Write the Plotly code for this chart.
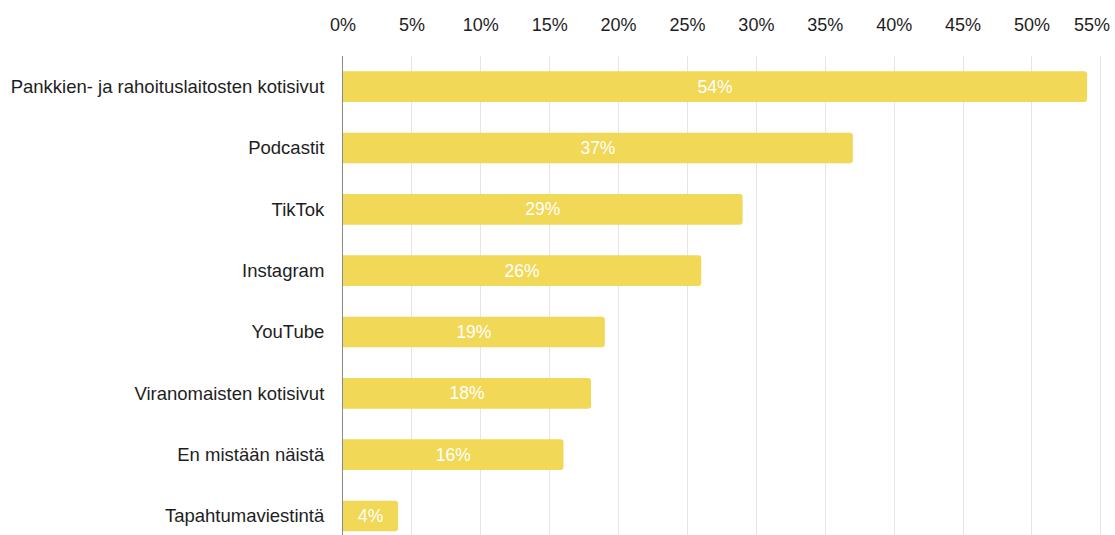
import plotly.graph_objects as go

categories = [
    "Pankkien- ja rahoituslaitosten kotisivut",
    "Podcastit",
    "TikTok",
    "Instagram",
    "YouTube",
    "Viranomaisten kotisivut",
    "En mistään näistä",
    "Tapahtumaviestintä",
]
values = [54, 37, 29, 26, 19, 18, 16, 4]
tick_values = [0, 5, 10, 15, 20, 25, 30, 35, 40, 45, 50, 55]
tick_labels = [f"{v}%" for v in tick_values]
value_labels = [f"{v}%" for v in values]

FONT = "Arial, 'Liberation Sans', Helvetica, sans-serif"

fig = go.Figure(
    go.Bar(
        x=values,
        y=categories,
        orientation="h",
        text=value_labels,
        textposition="inside",
        insidetextanchor="middle",
        textfont=dict(color="white", size=17.5, family=FONT),
        marker=dict(color="#F1D857", cornerradius=3, line=dict(width=0)),
        width=0.5,
        cliponaxis=False,
        hoverinfo="skip",
    )
)

fig.update_layout(
    width=1115,
    height=535,
    margin=dict(l=343, r=10, t=56, b=0),
    paper_bgcolor="white",
    plot_bgcolor="white",
    showlegend=False,
    font=dict(family=FONT, size=18, color="#1e1e1e"),
    uniformtext=dict(mode=False),
)

# last tick label is nudged left so it stays inside the page, as in the reference
shown_text = tick_labels[:-1] + [""]
fig.update_xaxes(
    side="top",
    range=[0, 55.3],
    tickvals=tick_values,
    ticktext=shown_text,
    showgrid=True,
    gridcolor="#E6E6E6",
    gridwidth=1,
    zeroline=False,
    showline=False,
    ticks="",
    ticklabelstandoff=20,
    tickfont=dict(size=18, color="#1e1e1e", family=FONT),
    fixedrange=True,
)
fig.add_annotation(
    x=tick_values[-1], xref="x",
    y=1, yref="paper",
    yshift=31,
    xshift=11,
    text=tick_labels[-1],
    showarrow=False,
    xanchor="right",
    yanchor="middle",
    font=dict(size=18, color="#1e1e1e", family=FONT),
)

fig.update_yaxes(
    type="category",
    categoryorder="array",
    categoryarray=categories,
    range=[7.31, -0.5],
    showgrid=False,
    zeroline=False,
    showline=True,
    linecolor="#8A8A8A",
    linewidth=1,
    ticks="",
    ticklabelstandoff=14,
    tickfont=dict(size=18.5, color="#1e1e1e", family=FONT),
    fixedrange=True,
)

fig.write_html("out.html")
